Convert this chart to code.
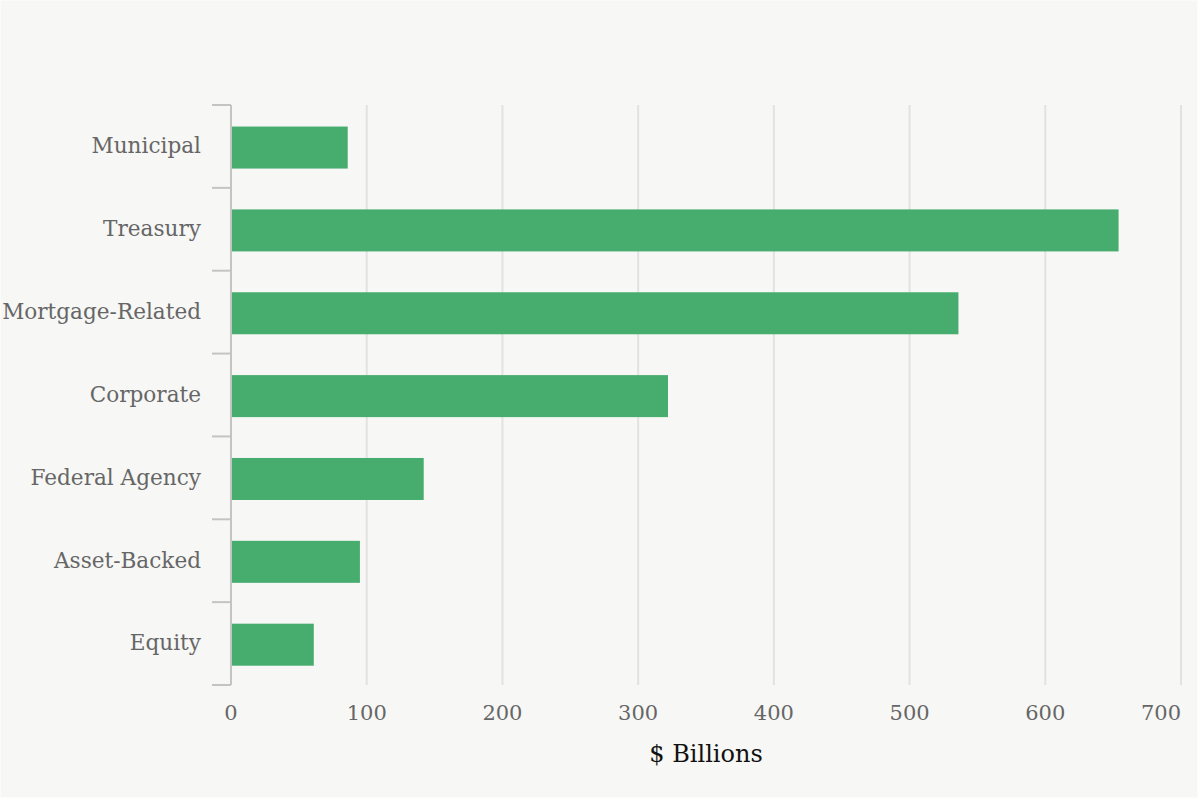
<!DOCTYPE html>
<html>
<head>
<meta charset="utf-8">
<script src="https://cdn.jsdelivr.net/npm/d3@7"></script>
<style>
	html, body { margin: 0; padding: 0; background: #fff; }
	svg { display: block; font-family: 'DejaVu Serif', serif; }
</style>
</head>
<body>
<div id="chart"></div>
<script>
const categories = ['Municipal', 'Treasury', 'Mortgage-Related', 'Corporate', 'Federal Agency', 'Asset-Backed', 'Equity'];
const values = [86, 654, 536, 322, 142, 95, 61];
const xTicks = [0, 100, 200, 300, 400, 500, 600, 700];

const width = 1200;
const height = 800;
const margin = {top: 105, right: 19, bottom: 115, left: 231};

const svg = d3
	.select('#chart')
	.append('svg')
	.attr('width', width)
	.attr('height', height);

svg.append('rect')
	.attr('x', 0.5)
	.attr('y', 0.5)
	.attr('width', width - 3)
	.attr('height', height - 3)
	.attr('fill', '#f7f7f5');

const x = d3
	.scaleLinear()
	.domain([0, 700])
	.range([margin.left, width - margin.right]);

const y = d3
	.scaleBand()
	.domain(categories)
	.range([margin.top, height - margin.bottom]);

// vertical grid
svg.append('g')
	.selectAll('line')
	.data(xTicks.slice(1))
	.enter()
	.append('line')
	.attr('x1', d => x(d))
	.attr('x2', d => x(d))
	.attr('y1', margin.top)
	.attr('y2', height - margin.bottom)
	.attr('stroke', '#e2e2e0')
	.attr('stroke-width', 2);

// bars
svg.append('g')
	.selectAll('rect')
	.data(values)
	.enter()
	.append('rect')
	.attr('x', x(0) + 1)
	.attr('y', (d, i) => y(categories[i]) + y.bandwidth() * 0.26)
	.attr('width', d => x(d) - x(0) - 1)
	.attr('height', y.bandwidth() * 0.507)
	.attr('fill', '#46ad6f');

// y axis line + boundary ticks
const yAxis = svg.append('g');
yAxis.append('line')
	.attr('x1', x(0))
	.attr('x2', x(0))
	.attr('y1', margin.top)
	.attr('y2', height - margin.bottom)
	.attr('stroke', '#c4c4c2')
	.attr('stroke-width', 2);

const edges = categories.map(c => y(c)).concat([height - margin.bottom]);
yAxis.selectAll('.edge')
	.data(edges)
	.enter()
	.append('line')
	.attr('class', 'edge')
	.attr('x1', x(0) - 19)
	.attr('x2', x(0))
	.attr('y1', d => d)
	.attr('y2', d => d)
	.attr('stroke', '#c4c4c2')
	.attr('stroke-width', 2);

yAxis.selectAll('text')
	.data(categories)
	.enter()
	.append('text')
	.attr('x', x(0) - 30)
	.attr('y', d => y(d) + y.bandwidth() / 2)
	.attr('dy', '0.32em')
	.attr('text-anchor', 'end')
	.attr('fill', '#666')
	.attr('font-size', 21.6)
	.text(d => d);

// x tick labels (last one kept inside the plot edge)
svg.append('g')
	.selectAll('text')
	.data(xTicks)
	.enter()
	.append('text')
	.attr('x', d => x(d))
	.attr('y', 713)
	.attr('dy', '0.32em')
	.attr('text-anchor', (d, i) => (i === xTicks.length - 1 ? 'end' : 'middle'))
	.attr('fill', '#666')
	.attr('font-size', 21)
	.text(d => d);

svg.append('text')
	.attr('x', (x(0) + x(700)) / 2)
	.attr('y', 754)
	.attr('dy', '0.32em')
	.attr('text-anchor', 'middle')
	.attr('fill', '#111')
	.attr('font-size', 24)
	.text('$ Billions');
</script>
</body>
</html>
